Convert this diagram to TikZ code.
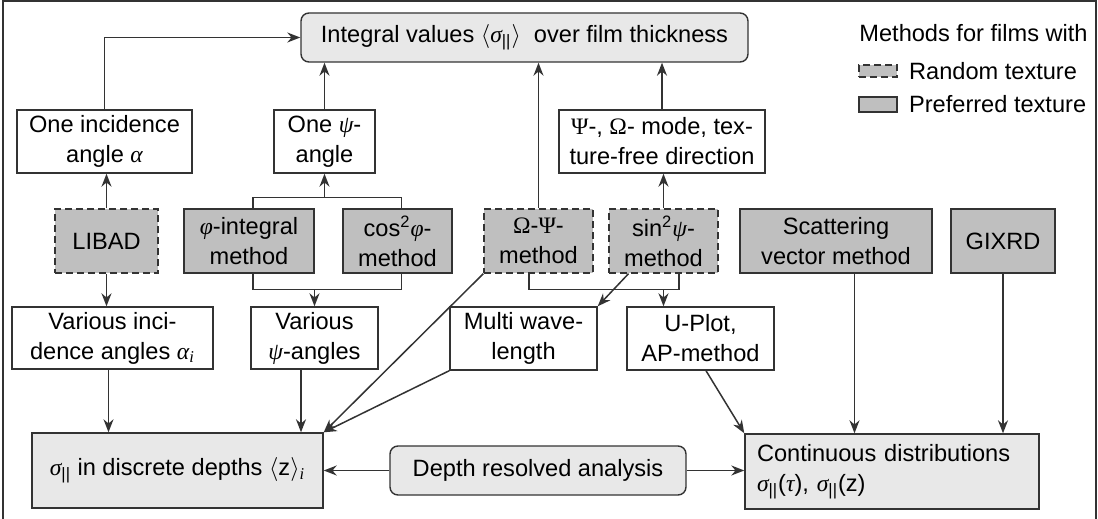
\documentclass[tikz,border=0pt]{standalone}
\usepackage{fontspec}
\setmainfont{Liberation Sans}
\newfontfamily\grkfont{Liberation Serif}
\newcommand{\gk}[1]{{\grkfont\itshape #1}}
\newcommand{\gu}[1]{{\grkfont #1}}
\newcommand{\spar}{\gk{σ}\textsubscript{||}}
\usetikzlibrary{%
  positioning,
  calc,
  arrows.meta,
}
\definecolor{methodfill}{gray}{0.75}
\definecolor{resultfill}{gray}{0.91}
\definecolor{linecol}{gray}{0.2}

\begin{document}
\begin{tikzpicture}[%
           x=0.5pt, y=-0.5pt,
           font=\fontsize{11.8}{15}\selectfont,
           box/.style={
             % The shape:
             rectangle,
             inner sep=0pt,
             align=center,
             % The border:
             line width=0.7pt,
             draw=linecol,
             % The filling:
             fill=white,
           },
           method/.style={box, fill=methodfill, minimum height=32pt},
           random/.style={method, dash pattern=on 3.5pt off 2pt},
           result/.style={box, fill=resultfill},
           link/.style={
             -{Stealth[length=6.5pt,width=5pt]},
             line width=0.75pt,
             color=linecol,
           },
           bracket/.style={line width=0.75pt, color=linecol},
         ]
         \useasboundingbox (0,0) rectangle (1098,519);
         \draw[line width=1pt, color=linecol] (2.5,519) |- (1095.5,1.5) -- (1095.5,519);

         % top row
         \node[result, rounded corners=4pt, minimum width=223.5pt, minimum height=24.5pt]
           (integral) at (524.5,37.5) {Integral values $\langle$\spar$\rangle$\ \ over film thickness};
         \node[box, minimum width=87.5pt, minimum height=31.5pt] (oneinc) at (104.5,141.5) {One incidence\\angle \gk{α}};
         \node[box, minimum width=50.5pt, minimum height=31.5pt] (onepsi) at (324.5,141.5) {One \gk{ψ}-\\angle};
         \node[box, minimum width=103pt, minimum height=31.5pt] (mode) at (662,141.5) {\gu{Ψ}-, \gu{Ω}- mode, tex-\\ture-free direction};

         % legend
         \node[anchor=west, inner sep=0pt] (legtitle) at (859,33) {Methods for films with};
         \node[random, minimum width=19pt, minimum height=6pt] (legrandom) at (878,71) {};
         \node[inner sep=0pt, right=5.5pt of legrandom] {Random texture};
         \node[method, minimum width=19pt, minimum height=7.5pt] (legpreferred) at (878,104.5) {};
         \node[inner sep=0pt, right=5.5pt of legpreferred] {Preferred texture};

         % methods
         \node[random, minimum width=51.5pt] (libad) at (106.5,241) {LIBAD};
         \node[method, minimum width=65pt] (phiint) at (249,241) {\gk{φ}-integral\\method};
         \node[method, minimum width=54.5pt] (cosphi) at (397.5,241) {cos\textsuperscript{2}\gk{φ}-\\method};
         \node[random, minimum width=54.5pt] (omegapsi) at (538.5,241) {\gu{Ω}-\gu{Ψ}-\\method};
         \node[random, minimum width=54.5pt] (sinpsi) at (663.5,241) {sin\textsuperscript{2}\gk{ψ}-\\method};
         \node[method, minimum width=96pt] (scatter) at (836,241) {Scattering\\vector method};
         \node[method, minimum width=52pt] (gixrd) at (1003,241) {GIXRD};

         % measuring modes
         \node[box, minimum width=100.5pt, minimum height=31pt] (vinc) at (112.5,338) {Various inci-\\dence angles \gk{α}\textsubscript{\gk{i}}};
         \node[box, minimum width=63.5pt, minimum height=31pt] (vpsi) at (314.5,338) {Various\\\gk{ψ}-angles};
         \node[box, minimum width=73.5pt, minimum height=31.5pt] (multi) at (523.5,338.5) {Multi wave-\\length};
         \node[box, minimum width=73.5pt, minimum height=31.5pt] (uplot) at (700.5,338.5) {U-Plot,\\AP-method};

         % results
         \node[result, minimum width=145.5pt, minimum height=37.5pt] (discrete) at (177.5,470.5)
           {\spar{} in discrete depths $\langle$z$\rangle$\textsubscript{\gk{i}}};
         \node[result, rounded corners=4pt, minimum width=148pt, minimum height=24.5pt] (depth) at (538,470.5) {Depth resolved analysis};
         \node[result, minimum width=147pt, minimum height=37.5pt, text width=135pt, align=left]
           (contin) at (892,471.5) {Continuous distributions\\\spar(\gk{τ}), \spar(z)};

         % to the integral values
         \draw[link] (oneinc.north) |- (integral.west);
         \draw[link] (onepsi.north) -- (onepsi.north |- integral.south);
         \draw[link] (omegapsi.north) -- (omegapsi.north |- integral.south);
         \draw[link] (mode.north) -- (mode.north |- integral.south);
         \draw[link] (sinpsi.north) -- (sinpsi.north |- mode.south);
         \draw[link] (libad.north) -- (libad.north |- oneinc.south);
         \draw[link] (libad.south) -- (libad.south |- vinc.north);

         \draw[bracket] ([xshift=2pt]phiint.north) -- ++(0,-11) coordinate (phitop) -| ([xshift=2pt]cosphi.north);
         \draw[link] (phitop -| onepsi.south) -- (onepsi.south);
         \draw[bracket] ([xshift=2pt]phiint.south) -- ++(0,16) coordinate (phibottom) -| ([xshift=2pt]cosphi.south);
         \draw[link] (phibottom -| vpsi.north) -- (vpsi.north);

         \draw[bracket] ([xshift=-4.75pt]omegapsi.south) -- ++(0,16) coordinate (ombottom) -| ([xshift=7.75pt]sinpsi.south);
         \draw[link] (ombottom -| sinpsi.south) -- (sinpsi.south |- uplot.north);
         \draw[link] ([xshift=-17.5pt]sinpsi.south) -- (multi.north east);

         % to the depth profiles
         \coordinate (vincout) at ([xshift=-2pt]vinc.south);
         \coordinate (vpsiout) at ([xshift=-6.75pt]vpsi.south);
         \coordinate (scatout) at ([xshift=9.25pt]scatter.south);
         \draw[link] (vincout) -- (vincout |- discrete.north);
         \draw[link] (vpsiout) -- (vpsiout |- discrete.north);
         \draw[link] (omegapsi.south west) -- (discrete.north east);
         \draw[link] (multi.south west) -- (discrete.north east);
         \draw[link] ([xshift=2.75pt]uplot.south) -- (contin.north west);
         \draw[link] (scatout) -- (scatout |- contin.north);
         \draw[link] (gixrd.south) -- (gixrd.south |- contin.north);
         \draw[link] (depth.west) -- (discrete.east);
         \draw[link] (depth.east) -- (depth.east -| contin.west);

     \end{tikzpicture}
\end{document}
